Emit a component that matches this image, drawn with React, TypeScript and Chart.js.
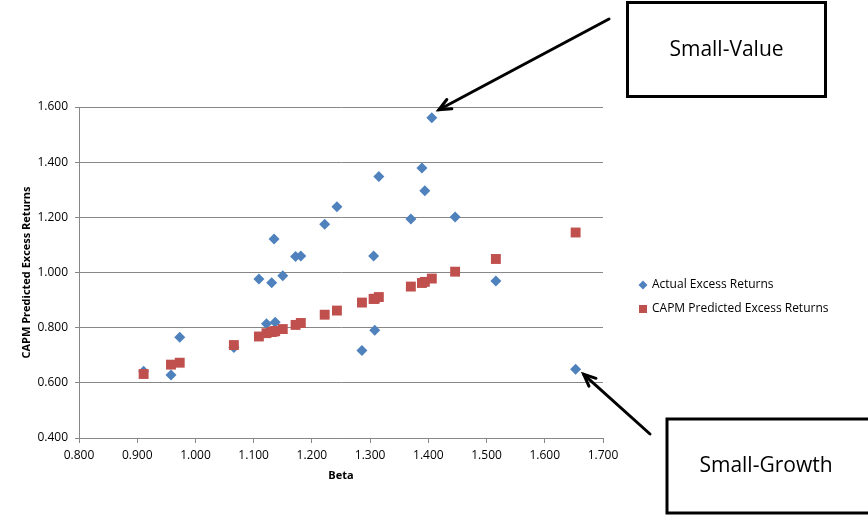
import React, { useEffect, useRef } from 'react';
import { Chart, registerables } from 'chart.js';

Chart.register(...registerables);

// ---- data ----
const betas = [
  0.911, 0.958, 0.973, 1.066, 1.109, 1.122, 1.131, 1.135, 1.137, 1.150,
  1.172, 1.181, 1.222, 1.243, 1.286, 1.306, 1.308, 1.315, 1.370, 1.389,
  1.394, 1.406, 1.446, 1.516, 1.653,
];
const actualReturns = [
  0.642, 0.628, 0.765, 0.728, 0.976, 0.814, 0.963, 1.121, 0.820, 0.988,
  1.058, 1.060, 1.175, 1.238, 0.717, 1.060, 0.791, 1.348, 1.194, 1.379,
  1.296, 1.561, 1.201, 0.969, 0.649,
];
const capmPredicted = [
  0.632, 0.666, 0.673, 0.737, 0.768, 0.780, 0.784, 0.786, 0.788, 0.795,
  0.810, 0.817, 0.847, 0.862, 0.891, 0.904, 0.905, 0.911, 0.949, 0.962,
  0.966, 0.978, 1.003, 1.049, 1.145,
];
const seriesNames = ['Actual Excess Returns', 'CAPM Predicted Excess Returns'];
const xTitle = 'Beta';
const yTitle = 'CAPM Predicted Excess Returns';
const xRange = [0.8, 1.7];
const yRange = [0.4, 1.6];
const xStep = 0.1;
const yStep = 0.2;
const calloutValue = { label: 'Small-Value', beta: 1.406, value: 1.561 };
const calloutGrowth = { label: 'Small-Growth', beta: 1.653, value: 0.649 };

const BLUE = '#4F81BD';
const RED = '#C0504D';
const GRID = '#878787';
const FONT = '"Open Sans", sans-serif';

function drawArrow(ctx: CanvasRenderingContext2D, x1: number, y1: number, x2: number, y2: number) {
  const ang = Math.atan2(y2 - y1, x2 - x1);
  const head = 13;
  const spread = 0.42;
  ctx.save();
  ctx.strokeStyle = '#000';
  ctx.lineWidth = 3;
  ctx.lineCap = 'round';
  ctx.lineJoin = 'miter';
  ctx.beginPath();
  ctx.moveTo(x1, y1);
  ctx.lineTo(x2, y2);
  ctx.stroke();
  ctx.beginPath();
  ctx.moveTo(x2 - head * Math.cos(ang - spread), y2 - head * Math.sin(ang - spread));
  ctx.lineTo(x2, y2);
  ctx.lineTo(x2 - head * Math.cos(ang + spread), y2 - head * Math.sin(ang + spread));
  ctx.stroke();
  ctx.restore();
}

const overlayPlugin = {
  id: 'overlay',
  afterDraw(chart: any) {
    const ctx: CanvasRenderingContext2D = chart.ctx;
    const xs = chart.scales.x;
    const ys = chart.scales.y;
    const area = chart.chartArea;
    ctx.save();

    // axis titles
    ctx.fillStyle = '#000';
    ctx.font = `bold 11px ${FONT}`;
    ctx.textAlign = 'center';
    ctx.textBaseline = 'middle';
    ctx.fillText(xTitle, (area.left + area.right) / 2, 476);
    ctx.save();
    ctx.translate(27, (area.top + area.bottom) / 2);
    ctx.rotate(-Math.PI / 2);
    ctx.fillText(yTitle, 0, 0);
    ctx.restore();

    // legend
    ctx.font = `12px ${FONT}`;
    ctx.textAlign = 'left';
    ctx.fillStyle = BLUE;
    ctx.beginPath();
    ctx.moveTo(643, 280.5);
    ctx.lineTo(647.5, 285);
    ctx.lineTo(643, 289.5);
    ctx.lineTo(638.5, 285);
    ctx.closePath();
    ctx.fill();
    ctx.fillStyle = RED;
    ctx.fillRect(639, 305, 8, 8);
    ctx.fillStyle = '#000';
    ctx.fillText(seriesNames[0], 652, 285);
    ctx.fillText(seriesNames[1], 652, 309);

    // callout boxes
    ctx.lineWidth = 3;
    ctx.strokeStyle = '#000';
    ctx.fillStyle = '#fff';
    ctx.fillRect(627.5, 2.5, 198, 94);
    ctx.strokeRect(627.5, 2.5, 198, 94);
    ctx.fillRect(667, 419, 220, 94);
    ctx.strokeRect(667, 419, 220, 94);
    ctx.fillStyle = '#000';
    ctx.font = `21px ${FONT}`;
    ctx.textAlign = 'center';
    ctx.fillText(calloutValue.label, 726.5, 50);
    ctx.fillText(calloutGrowth.label, 766, 466);

    // arrows anchored to the data points
    const vx = xs.getPixelForValue(calloutValue.beta);
    const vy = ys.getPixelForValue(calloutValue.value);
    drawArrow(ctx, 609, 19, vx + 7, vy - 8);
    const gx = xs.getPixelForValue(calloutGrowth.beta);
    const gy = ys.getPixelForValue(calloutGrowth.value);
    drawArrow(ctx, 650, 434, gx + 8, gy + 5);

    ctx.restore();
  },
};

export default function App() {
  const canvasRef = useRef<HTMLCanvasElement | null>(null);

  useEffect(() => {
    const canvas = canvasRef.current;
    if (!canvas) return;
    const actualPts = betas.map((b, i) => ({ x: b, y: actualReturns[i] }));
    const capmPts = betas.map((b, i) => ({ x: b, y: capmPredicted[i] }));
    const chart = new Chart(canvas, {
      type: 'scatter',
      data: {
        datasets: [
          {
            label: seriesNames[0],
            data: actualPts,
            pointStyle: 'rectRot',
            pointRadius: 5.5,
            pointBackgroundColor: BLUE,
            pointBorderColor: BLUE,
            pointBorderWidth: 0,
            order: 2,
          },
          {
            label: seriesNames[1],
            data: capmPts,
            pointStyle: 'rect',
            pointRadius: 7,
            pointBackgroundColor: RED,
            pointBorderColor: RED,
            pointBorderWidth: 0,
            order: 1,
          },
        ],
      },
      options: {
        responsive: false,
        animation: false,
        layout: { padding: { left: 0, top: 107, right: 265, bottom: 0 } },
        plugins: { legend: { display: false }, tooltip: { enabled: false } },
        scales: {
          x: {
            type: 'linear',
            min: xRange[0],
            max: xRange[1],
            afterFit: (s: any) => { s.height = 77; },
            ticks: {
              stepSize: xStep,
              callback: (v: any) => Number(v).toFixed(3),
              font: { family: FONT, size: 12 },
              color: '#000',
              padding: 5,
              maxRotation: 0,
            },
            grid: { drawOnChartArea: false, drawTicks: true, tickLength: 5, color: GRID },
            border: { display: true, color: GRID, width: 1 },
          },
          y: {
            type: 'linear',
            min: yRange[0],
            max: yRange[1],
            afterFit: (s: any) => { s.width = 79; },
            ticks: {
              stepSize: yStep,
              callback: (v: any) => Number(v).toFixed(3),
              font: { family: FONT, size: 12 },
              color: '#000',
              padding: 7,
            },
            grid: { color: GRID, tickLength: 4, drawTicks: true },
            border: { display: true, color: GRID, width: 1 },
          },
        },
      },
      plugins: [overlayPlugin],
    });
    return () => chart.destroy();
  }, []);

  return (
    <div style={{ position: 'absolute', left: 0, top: 0, width: 868, height: 515, background: '#fff' }}>
      <canvas ref={canvasRef} width={868} height={515} />
    </div>
  );
}
